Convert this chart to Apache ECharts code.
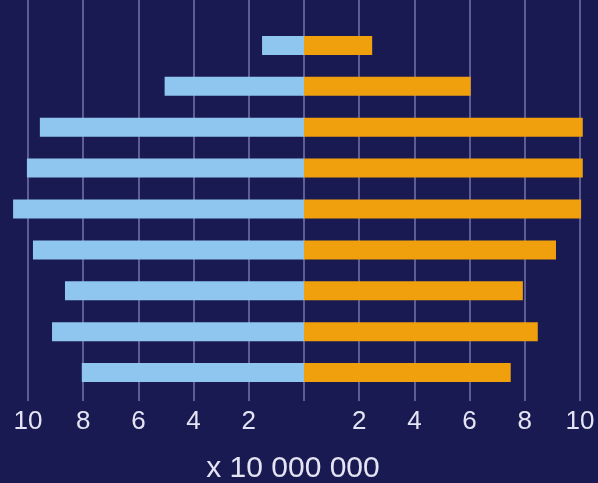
<!DOCTYPE html>
<html>
<head>
<meta charset="utf-8">
<style>
html,body{margin:0;padding:0;background:#1a1a52;}
#c{width:598px;height:483px;}
</style>
<script src="https://cdn.jsdelivr.net/npm/echarts@6/dist/echarts.min.js"></script>
</head>
<body>
<div id="c"></div>
<script>
// categories bottom to top (labels not shown in the chart)
const categories = ['g1','g2','g3','g4','g5','g6','g7','g8','g9'];
// left side (light blue), in units of 10 000 000
const leftValues = [8.05, 9.13, 8.66, 9.82, 10.54, 10.04, 9.57, 5.05, 1.52];
// right side (orange), in units of 10 000 000
const rightValues = [7.49, 8.47, 7.93, 9.13, 10.04, 10.1, 10.1, 6.04, 2.47];
const tickMin = -10, tickMax = 10, tickStep = 2;
const unitText = 'x 10 000 000';

const chart = echarts.init(document.getElementById('c'), null, {renderer:'canvas'});
const gridLineColor = 'rgba(190,190,240,0.55)';
chart.setOption({
  backgroundColor: '#1a1a52',
  animation: false,
  title: {
    text: unitText,
    left: 288, top: 449, textAlign: 'center',
    textStyle: {color:'#e4e4f4', fontSize: 30, fontWeight: 'normal', fontFamily: 'Liberation Sans, Arial, sans-serif'}
  },
  grid: [
    {left: 28, right: 18, top: 25, bottom: 90},
    {left: 28, right: 18, top: 0, bottom: 90}
  ],
  xAxis: [
    {
      type: 'value', gridIndex: 0, min: tickMin, max: tickMax, interval: tickStep,
      splitLine: {show: false},
      axisLine: {show: false},
      axisTick: {show: true, length: 8, lineStyle: {color: gridLineColor, width: 1.5}},
      axisLabel: {
        color: '#e4e4f4', fontSize: 26, margin: 16,
        fontFamily: 'Liberation Sans, Arial, sans-serif',
        formatter: v => v === 0 ? '' : String(Math.abs(v))
      }
    },
    {
      type: 'value', gridIndex: 1, min: tickMin, max: tickMax, interval: tickStep,
      splitLine: {show: true, lineStyle: {color: gridLineColor, width: 1.5}},
      axisLine: {show: false}, axisTick: {show: false}, axisLabel: {show: false}
    }
  ],
  yAxis: [
    {type: 'category', gridIndex: 0, data: categories, show: false},
    {type: 'value', gridIndex: 1, min: 0, max: 1, show: false}
  ],
  series: [
    {
      type: 'bar', stack: 'p', xAxisIndex: 0, yAxisIndex: 0, barWidth: 19, clip: false,
      itemStyle: {color: '#8ec6f0'},
      data: leftValues.map(v => -v)
    },
    {
      type: 'bar', stack: 'p', xAxisIndex: 0, yAxisIndex: 0, barWidth: 19, clip: false,
      itemStyle: {color: '#f0a00c'},
      data: rightValues
    }
  ]
});
</script>
</body>
</html>
